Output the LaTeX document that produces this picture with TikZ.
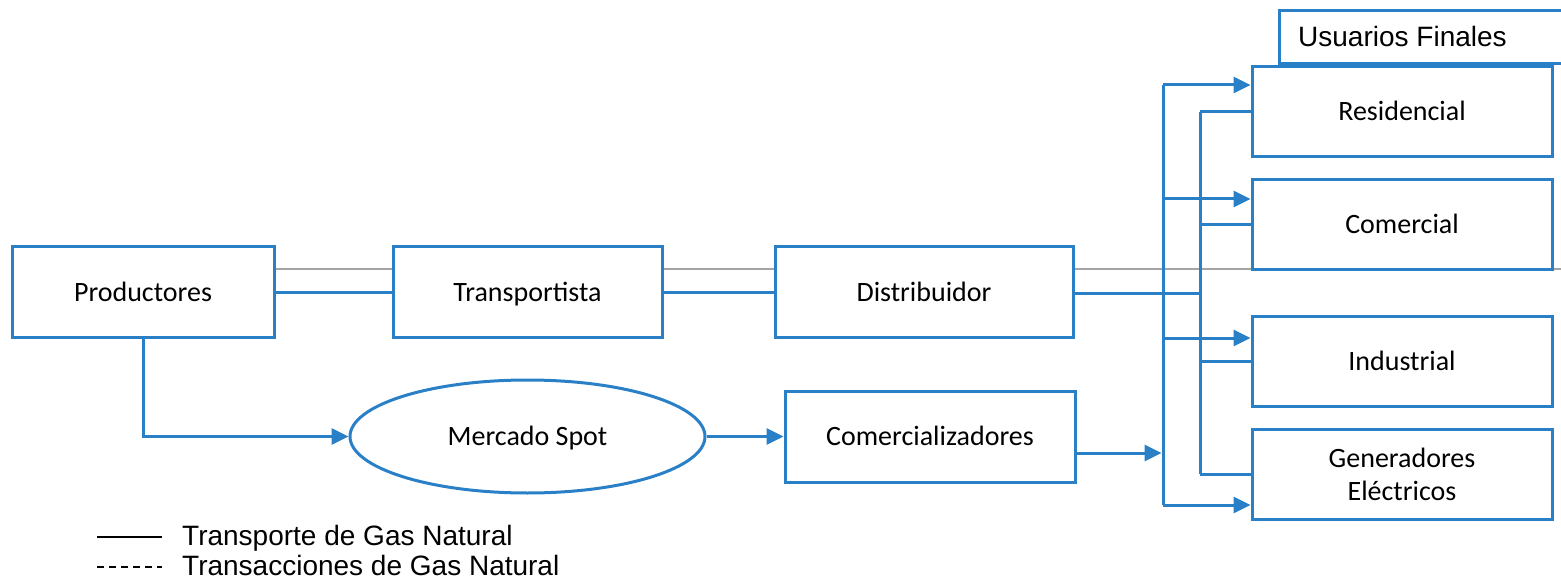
\documentclass[tikz,border=0pt]{standalone}
\usepackage{fontspec}
\setmainfont{Carlito}
\newfontfamily\arialf{Liberation Sans}
\usetikzlibrary{arrows.meta,shapes.geometric,calc}
\definecolor{bl}{RGB}{41,128,199}
\definecolor{gr}{RGB}{165,165,165}
\begin{document}
\begin{tikzpicture}[x=1pt,y=-1pt,
  box/.style={draw=bl,line width=3pt,rectangle,minimum height=90pt,inner sep=0pt,
    font=\fontsize{28}{33}\selectfont,align=center,text=black,text height=22pt,text depth=4pt},
  ubox/.style={box,minimum width=300pt},
  link/.style={draw=bl,line width=3pt},
  arr/.style={link,-{Triangle[length=17pt,width=16pt]}},
  thin/.style={draw=gr,line width=1.5pt},
  leg/.style={font=\arialf\fontsize{28}{30}\selectfont,anchor=base west,inner sep=0pt,text=black}]
\useasboundingbox (0,0) rectangle (1561,580);

% thin gray line (behind)
\draw[thin] (274,269) -- (393,269);
\draw[thin] (662,269) -- (775,269);
\draw[thin] (1073,269) -- (1561,269);

% main chain
\node[box,minimum width=262pt] (prod) at (143,292) {Productores};
\node[box,minimum width=269pt] (trans) at (527.5,292) {Transportista};
\node[box,minimum width=298pt] (dist) at (924,292) {Distribuidor};
\node[draw=bl,line width=3pt,ellipse,minimum width=355pt,minimum height=113pt,inner sep=0pt,
  font=\fontsize{28}{33}\selectfont,text height=22pt,text depth=4pt] (spot) at (527.5,436.5) {Mercado Spot};
\node[box,minimum width=290pt,minimum height=91pt] (comm) at (930,436.5) {Comercializadores};

% end users
\node[draw=bl,line width=3pt,minimum width=290pt,minimum height=53pt,inner sep=0pt,
  anchor=north west] (uf) at (1278,9) {};
\node[font=\arialf\fontsize{28}{30}\selectfont,anchor=base west,inner sep=0pt] (uft) at (1298,47) {Usuarios Finales};
\node[ubox] (res) at (1402,112) {Residencial};
\node[ubox,minimum height=89pt] (com) at (1402,224.5) {Comercial};
\node[ubox] (ind) at (1402,361) {Industrial};
\node[ubox,text height=56pt,text depth=4pt] (gen) at (1402,474) {Generadores\\Eléctricos};

% chain links
\draw[link] (prod.east) -- (trans.west);
\draw[link] (trans.east) -- (dist.west);
\draw[arr] (prod.south) |- (spot.west);
\draw[arr] (spot.east) -- (comm.west);

% buses
\coordinate (b1t) at (1163,85);
\coordinate (b1b) at (1163,505);
\coordinate (b2t) at (1200,112);
\coordinate (b2b) at (1200,474);
\coordinate (b2d) at (1200,293);
\coordinate (b1c) at (1163,453);
\coordinate (b1com) at (1165,199);
\coordinate (b1ind) at (1165,338);

\draw[link] (b2t) -- (b2b);
\draw[link] (dist.east |- b2d) -- (b2d);
\draw[link] (res.west) -- (b2t);
\draw[link] (com.west) -- (com.west -| b2t);
\draw[link] (ind.west) -- (ind.west -| b2t);
\draw[link] (gen.west) -- (b2b);

\draw[link] (b1t) -- (b1b);
\draw[arr] (b1t) -- (b1t -| res.west);
\draw[arr] (b1com) -- (b1com -| com.west);
\draw[arr] (b1ind) -- (b1ind -| ind.west);
\draw[arr] (b1b) -- (b1b -| gen.west);
\draw[arr] (comm.east |- b1c) -- ($(b1c)+(-1.5,0)$);

% legend
\coordinate (l1a) at (97,537);
\coordinate (l1b) at (162,537);
\coordinate (l2a) at (97,567);
\coordinate (l2b) at (162,567);
\draw[line width=2pt,black] (l1a) -- (l1b);
\draw[line width=2pt,black,dash pattern=on 7pt off 5pt] (l2a) -- (l2b);
\node[leg] (t1) at (182,545) {Transporte de Gas Natural};
\node[leg] (t2) at (182,575) {Transacciones de Gas Natural};
\end{tikzpicture}
\end{document}
